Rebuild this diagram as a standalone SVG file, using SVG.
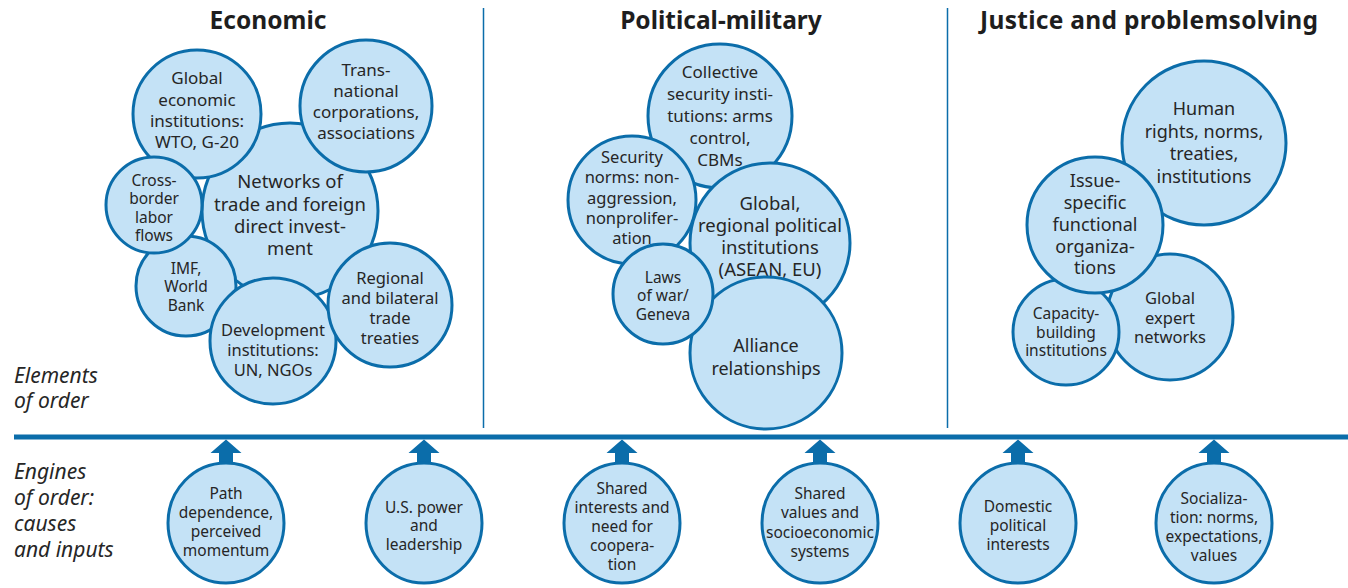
<svg xmlns="http://www.w3.org/2000/svg" width="1348" height="588" viewBox="0 0 1348 588">
<style>
.n{fill:#c4e2f6;stroke:#0b6daa;stroke-width:3}
.t{font-family:"Noto Sans","Open Sans",sans-serif;fill:#262626;text-anchor:middle}
.h{font-family:"Noto Sans","Open Sans",sans-serif;font-weight:bold;font-size:24.5px;fill:#1e1e1e;text-anchor:middle}
.l{font-family:"Noto Sans","Open Sans",sans-serif;font-style:italic;font-size:21px;fill:#262626}
.f155{font-size:15.5px}.f165{font-size:16.5px}.f17{font-size:17px}.f18{font-size:18px}.f185{font-size:18.5px}
.ar{fill:#0b6daa}
</style>
<rect width="1348" height="588" fill="#ffffff"/>
<g id="headers">
<text class="h" x="268" y="29">Economic</text>
<text class="h" x="721" y="29">Political-military</text>
<text class="h" x="1149" y="29" textLength="338">Justice and problemsolving</text>
</g>
<g id="labels">
<text class="l" x="14" y="383">Elements</text>
<text class="l" x="14" y="408">of order</text>
<text class="l" x="14" y="479">Engines</text>
<text class="l" x="14" y="505">of order:</text>
<text class="l" x="14" y="531">causes</text>
<text class="l" x="14" y="557">and inputs</text>
</g>
<g id="connectors">
<line x1="483.5" y1="8" x2="483.5" y2="428" stroke="#0b6daa" stroke-width="1.5"/>
<line x1="947.5" y1="8" x2="947.5" y2="428" stroke="#0b6daa" stroke-width="1.5"/>
<line x1="14" y1="437" x2="1348" y2="437" stroke="#0b6daa" stroke-width="5"/>
<polygon class="ar" points="226,439.5 241.5,453 233,453 233,466 219,466 219,453 210.5,453"/>
<polygon class="ar" points="424,439.5 439.5,453 431,453 431,466 417,466 417,453 408.5,453"/>
<polygon class="ar" points="622,439.5 637.5,453 629,453 629,466 615,466 615,453 606.5,453"/>
<polygon class="ar" points="820,439.5 835.5,453 827,453 827,466 813,466 813,453 804.5,453"/>
<polygon class="ar" points="1018,439.5 1033.5,453 1025,453 1025,466 1011,466 1011,453 1002.5,453"/>
<polygon class="ar" points="1214,439.5 1229.5,453 1221,453 1221,466 1207,466 1207,453 1198.5,453"/>
</g>
<g id="networks-trade">
<circle class="n" cx="290" cy="211" r="88"/>
<text class="t f185" x="290"><tspan x="290" y="187.5">Networks of</tspan><tspan x="290" y="210.5">trade and foreign</tspan><tspan x="290" y="232.5">direct invest-</tspan><tspan x="290" y="254.5">ment</tspan></text>
</g>
<g id="global-economic">
<circle class="n" cx="197" cy="114" r="64"/>
<text class="t f17"><tspan x="197" y="84">Global</tspan><tspan x="197" y="106">economic</tspan><tspan x="197" y="127">institutions:</tspan><tspan x="197" y="148">WTO, G-20</tspan></text>
</g>
<g id="transnational">
<circle class="n" cx="366" cy="106" r="66"/>
<text class="t f17"><tspan x="366" y="76">Trans-</tspan><tspan x="366" y="97">national</tspan><tspan x="366" y="118">corporations,</tspan><tspan x="366" y="139">associations</tspan></text>
</g>
<g id="imf">
<circle class="n" cx="186" cy="286" r="50"/>
<text class="t f155"><tspan x="186" y="273.5">IMF,</tspan><tspan x="186" y="291.5">World</tspan><tspan x="186" y="310.5">Bank</tspan></text>
</g>
<g id="cross-border">
<circle class="n" cx="154" cy="205" r="48"/>
<text class="t f155"><tspan x="154" y="185.5">Cross-</tspan><tspan x="154" y="203.5">border</tspan><tspan x="154" y="222.5">labor</tspan><tspan x="154" y="240.5">flows</tspan></text>
</g>
<g id="development">
<circle class="n" cx="273" cy="341" r="63"/>
<text class="t f165"><tspan x="273" y="336">Development</tspan><tspan x="273" y="356">institutions:</tspan><tspan x="273" y="376">UN, NGOs</tspan></text>
</g>
<g id="regional-trade">
<circle class="n" cx="390" cy="305" r="62"/>
<text class="t f165"><tspan x="390" y="284">Regional</tspan><tspan x="390" y="304">and bilateral</tspan><tspan x="390" y="324">trade</tspan><tspan x="390" y="344">treaties</tspan></text>
</g>
<g id="collective-security">
<circle class="n" cx="720" cy="116" r="72"/>
<text class="t f17"><tspan x="720" y="78">Collective</tspan><tspan x="720" y="100">security insti-</tspan><tspan x="720" y="122">tutions: arms</tspan><tspan x="720" y="144">control,</tspan><tspan x="720" y="166">CBMs</tspan></text>
</g>
<g id="security-norms">
<circle class="n" cx="632" cy="200" r="64"/>
<text class="t f165"><tspan x="632" y="163">Security</tspan><tspan x="632" y="183">norms: non-</tspan><tspan x="632" y="203.5">aggression,</tspan><tspan x="632" y="224">nonprolifer-</tspan><tspan x="632" y="244">ation</tspan></text>
</g>
<g id="global-political">
<circle class="n" cx="770" cy="243" r="80"/>
<text class="t f185"><tspan x="770" y="209.5">Global,</tspan><tspan x="770" y="231.5">regional political</tspan><tspan x="770" y="253.5">institutions</tspan><tspan x="770" y="276">(ASEAN, EU)</tspan></text>
</g>
<g id="alliance">
<circle class="n" cx="766" cy="353" r="76"/>
<text class="t f18"><tspan x="766" y="351.5">Alliance</tspan><tspan x="766" y="374.5">relationships</tspan></text>
</g>
<g id="laws-of-war">
<circle class="n" cx="663" cy="294" r="50"/>
<text class="t f155"><tspan x="663" y="282.5">Laws</tspan><tspan x="663" y="300.5">of war/</tspan><tspan x="663" y="319.5">Geneva</tspan></text>
</g>
<g id="human-rights">
<circle class="n" cx="1204" cy="143" r="82"/>
<text class="t f18"><tspan x="1204" y="114.5">Human</tspan><tspan x="1204" y="137.5">rights, norms,</tspan><tspan x="1204" y="159.5">treaties,</tspan><tspan x="1204" y="182.5">institutions</tspan></text>
</g>
<g id="global-expert">
<circle class="n" cx="1170" cy="317" r="63"/>
<text class="t f165"><tspan x="1170" y="304">Global</tspan><tspan x="1170" y="324">expert</tspan><tspan x="1170" y="343">networks</tspan></text>
</g>
<g id="capacity-building">
<circle class="n" cx="1066" cy="332" r="53"/>
<text class="t f155"><tspan x="1066" y="318.5">Capacity-</tspan><tspan x="1066" y="337.5">building</tspan><tspan x="1066" y="355.5">institutions</tspan></text>
</g>
<g id="issue-specific">
<circle class="n" cx="1095" cy="225" r="68"/>
<text class="t f18"><tspan x="1095" y="186.5">Issue-</tspan><tspan x="1095" y="208.5">specific</tspan><tspan x="1095" y="230.5">functional</tspan><tspan x="1095" y="252.5">organiza-</tspan><tspan x="1095" y="273.5">tions</tspan></text>
</g>
<g id="path-dependence">
<ellipse class="n" cx="226" cy="523" rx="58" ry="60"/>
<text class="t f155"><tspan x="226" y="498.5">Path</tspan><tspan x="226" y="518">dependence,</tspan><tspan x="226" y="537">perceived</tspan><tspan x="226" y="556">momentum</tspan></text>
</g>
<g id="us-power">
<ellipse class="n" cx="424" cy="523" rx="58" ry="60"/>
<text class="t f155"><tspan x="424" y="512.5">U.S. power</tspan><tspan x="424" y="531">and</tspan><tspan x="424" y="550">leadership</tspan></text>
</g>
<g id="shared-interests">
<ellipse class="n" cx="622" cy="523" rx="58" ry="60"/>
<text class="t f155"><tspan x="622" y="493.5">Shared</tspan><tspan x="622" y="512.5">interests and</tspan><tspan x="622" y="531.5">need for</tspan><tspan x="622" y="550.5">coopera-</tspan><tspan x="622" y="569.5">tion</tspan></text>
</g>
<g id="shared-values">
<ellipse class="n" cx="820" cy="523" rx="58" ry="60"/>
<text class="t f155"><tspan x="820" y="498.5">Shared</tspan><tspan x="820" y="518">values and</tspan><tspan x="820" y="537.5">socioeconomic</tspan><tspan x="820" y="557">systems</tspan></text>
</g>
<g id="domestic">
<ellipse class="n" cx="1018" cy="523" rx="58" ry="60"/>
<text class="t f155"><tspan x="1018" y="511.5">Domestic</tspan><tspan x="1018" y="530.5">political</tspan><tspan x="1018" y="549.5">interests</tspan></text>
</g>
<g id="socialization">
<ellipse class="n" cx="1214" cy="523" rx="58" ry="60"/>
<text class="t f155"><tspan x="1214" y="503.5">Socializa-</tspan><tspan x="1214" y="522.5">tion: norms,</tspan><tspan x="1214" y="542">expectations,</tspan><tspan x="1214" y="560.5">values</tspan></text>
</g>
</svg>
